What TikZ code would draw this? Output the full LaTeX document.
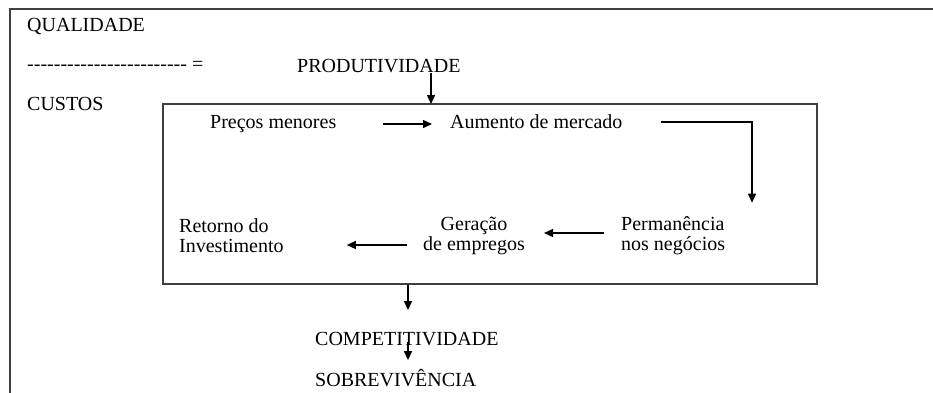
\documentclass[tikz,border=0pt]{standalone}
\usepackage{fontspec}
\setmainfont{Liberation Serif}
\usetikzlibrary{arrows.meta}
\tikzset{
  rotulo/.style={inner sep=0pt, font=\fontsize{20}{20}\selectfont},
  seta/.style={line width=1.4pt, -{Triangle[length=9pt,width=8pt]}},
  moldura/.style={line width=1.6pt, draw=black!75},
}

\begin{document}
\begin{tikzpicture}[x=1pt,y=-1pt]
  \useasboundingbox (0,0) rectangle (933,392);
  \clip (0,0) rectangle (933,392);
  % outer frame, cut off at the right and at the bottom
  \draw[moldura] (10,9) rectangle (950,410);

  % quality over costs
  \node[rotulo,anchor=west] (qual) at (27,26) {QUALIDADE};
  \node[rotulo,anchor=west] (traco) at (27,66) {\foreach \i in {1,...,24}{-}\ =};
  \node[rotulo,anchor=west] (custos) at (27,104) {CUSTOS};
  \node[rotulo,anchor=west] (prod) at (297,66) {PRODUTIVIDADE};

  % cycle box
  \node[moldura,draw,minimum width=654,minimum height=180,inner sep=0pt] (ciclo) at (490,194) {};
  \node[rotulo,anchor=west] (pre) at (210,124) {Preços menores};
  \node[rotulo,anchor=west] (aum) at (450,122) {Aumento de mercado};
  \node[rotulo,anchor=west,align=left] (perm) at (621,236) {Permanência\\nos negócios};
  \node[rotulo,align=center] (ger) at (474,236) {Geração\\de empregos};
  \node[rotulo,anchor=west,align=left] (ret) at (179,236) {Retorno do\\Investimento};

  % results
  \node[rotulo,anchor=west] (comp) at (315,339) {COMPETITIVIDADE};
  \node[rotulo,anchor=west] (sob) at (315,378) {SOBREVIVÊNCIA};

  % arrows
  \coordinate (entra) at (431,104);
  \coordinate (dobra) at (752,122);
  \coordinate (eixo) at (408,0);
  \draw[seta] (prod.south -| entra) -- (entra);
  \draw[seta,shorten <=47pt,shorten >=18pt] (pre.east) -- (pre.east -| aum.west);
  \draw[seta,shorten <=38pt,shorten >=14pt] (aum.east) -| (perm.north -| dobra);
  \draw[seta,shorten <=17pt,shorten >=19pt] ([yshift=3pt]perm.west) -- ([yshift=3pt]ger.east);
  \draw[seta,shorten <=16pt,shorten >=63pt] ([yshift=-9pt]ger.west) -- ([yshift=-9pt]ret.east);
  \draw[seta,shorten >=22pt] (ciclo.south -| eixo) -- (comp.north -| eixo);
  \draw[seta,shorten <=-4pt,shorten >=9pt] (comp.south -| eixo) -- (sob.north -| eixo);
\end{tikzpicture}
\end{document}
